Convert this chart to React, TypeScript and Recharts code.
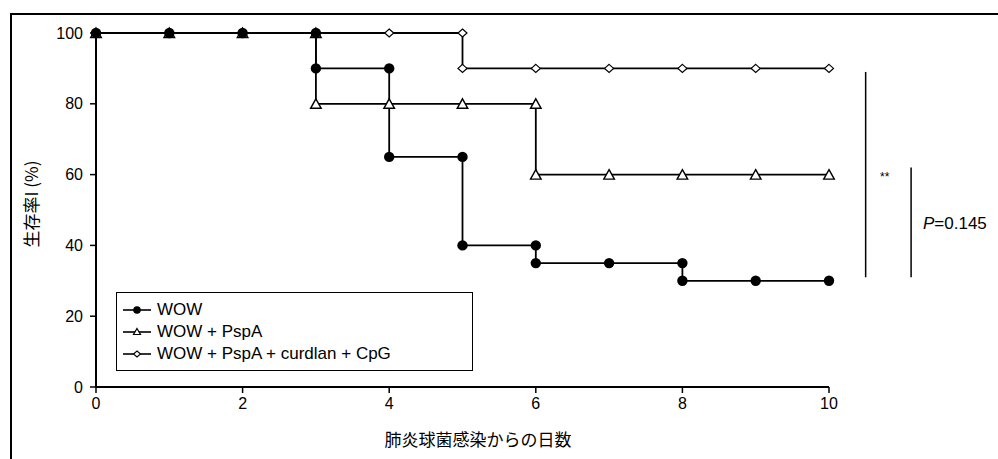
import {
  LineChart,
  Line,
  XAxis,
  YAxis,
  Legend,
  ReferenceLine,
} from "recharts";

// 生存曲線（日数 / 生存率 %）
const wowDays = [0, 1, 2, 3, 3, 4, 4, 5, 5, 6, 6, 7, 8, 8, 9, 10];
const wowSurvival = [100, 100, 100, 100, 90, 90, 65, 65, 40, 40, 35, 35, 35, 30, 30, 30];

const pspaDays = [0, 1, 2, 3, 3, 4, 5, 6, 6, 7, 8, 9, 10];
const pspaSurvival = [100, 100, 100, 100, 80, 80, 80, 80, 60, 60, 60, 60, 60];

const comboDays = [0, 1, 2, 3, 4, 5, 5, 6, 7, 8, 9, 10];
const comboSurvival = [100, 100, 100, 100, 100, 100, 90, 90, 90, 90, 90, 90];

const xTicks = [0, 2, 4, 6, 8, 10];
const yTicks = [0, 20, 40, 60, 80, 100];

const seriesNames = ["WOW", "WOW + PspA", "WOW + PspA + curdlan + CpG"];

const toRows = (days: number[], values: number[]) =>
  days.map((d, i) => ({ day: d, value: values[i] }));

const wowData = toRows(wowDays, wowSurvival);
const pspaData = toRows(pspaDays, pspaSurvival);
const comboData = toRows(comboDays, comboSurvival);

const LATIN = "'Liberation Sans', Arial, Helvetica, sans-serif";
const CJK = "'Noto Sans CJK JP', 'Liberation Sans', sans-serif";

const CircleDot = (p: any) => {
  const { cx, cy } = p;
  if (cx == null || cy == null) return null;
  return <circle key={`c${p.index}`} cx={cx} cy={cy} r={5.2} fill="#000" />;
};

const TriangleDot = (p: any) => {
  const { cx, cy } = p;
  if (cx == null || cy == null) return null;
  return (
    <path
      key={`t${p.index}`}
      d={`M${cx},${cy - 5} L${cx + 5.3},${cy + 4.5} L${cx - 5.3},${cy + 4.5} Z`}
      fill="#fff"
      stroke="#000"
      strokeWidth={1.4}
    />
  );
};

const DiamondDot = (p: any) => {
  const { cx, cy } = p;
  if (cx == null || cy == null) return null;
  return (
    <path
      key={`d${p.index}`}
      d={`M${cx},${cy - 4} L${cx + 4.5},${cy} L${cx},${cy + 4} L${cx - 4.5},${cy} Z`}
      fill="#fff"
      stroke="#000"
      strokeWidth={1.2}
    />
  );
};

const LegendBox = () => {
  const icons = [
    <circle cx={14} cy={9} r={3.8} fill="#000" />,
    <path d="M14,5.5 L17.5,11.5 L10.5,11.5 Z" fill="#fff" stroke="#000" strokeWidth={1.2} />,
    <path d="M14,6 L17.5,9 L14,12 L10.5,9 Z" fill="#fff" stroke="#000" strokeWidth={1.1} />,
  ];
  return (
    <div
      style={{
        border: "1.5px solid #000",
        boxSizing: "border-box",
        width: 357,
        height: 79,
        padding: "6px 0 0 6px",
        background: "#fff",
      }}
    >
      {seriesNames.map((name, i) => (
        <div
          key={name}
          style={{ display: "flex", alignItems: "center", height: 22, fontFamily: LATIN, fontSize: 17, color: "#000" }}
        >
          <svg width={28} height={18} style={{ marginRight: 6 }}>
            <line x1={0} y1={9} x2={28} y2={9} stroke="#000" strokeWidth={1.6} />
            {icons[i]}
          </svg>
          {name}
        </div>
      ))}
    </div>
  );
};

export default function App() {
  return (
    <div
      style={{
        position: "absolute",
        left: 0,
        top: 0,
        width: 998,
        height: 459,
        overflow: "hidden",
        background: "#fff",
      }}
    >
      <div
        style={{
          position: "absolute",
          left: 10,
          top: 13,
          width: 1100,
          height: 600,
          borderLeft: "2px solid #000",
          borderTop: "2px solid #000",
        }}
      />
      <div style={{ position: "absolute", left: 0, top: 0 }}>
        <LineChart
          width={998}
          height={459}
          margin={{ top: 33, right: 169, bottom: 42, left: 32 }}
        >
          <XAxis
            dataKey="day"
            type="number"
            domain={[0, 10]}
            ticks={xTicks}
            height={30}
            axisLine={{ stroke: "#000", strokeWidth: 2 }}
            tickLine={{ stroke: "#000", strokeWidth: 1.5 }}
            tickSize={6}
            tickMargin={5}
            tick={{ fill: "#000", fontSize: 16, fontFamily: LATIN }}
            label={{
              content: () => (
                <text x={478} y={446} textAnchor="middle" fontSize={17} fontFamily={CJK} fill="#000">
                  肺炎球菌感染からの日数
                </text>
              ),
            }}
          />
          <YAxis
            type="number"
            domain={[0, 100]}
            ticks={yTicks}
            width={64}
            axisLine={{ stroke: "#000", strokeWidth: 2 }}
            tickLine={{ stroke: "#000", strokeWidth: 1.5 }}
            tickSize={6}
            tickMargin={7}
            tick={{ fill: "#000", fontSize: 16, fontFamily: LATIN }}
            label={{
              content: () => (
                <text
                  x={38}
                  y={204}
                  transform="rotate(-90 38 204)"
                  textAnchor="middle"
                  fontSize={17}
                  fontFamily={CJK}
                  fill="#000"
                >
                  生存率I (%)
                </text>
              ),
            }}
          />
          <Line
            data={comboData}
            dataKey="value"
            type="linear"
            stroke="#000"
            strokeWidth={1.8}
            dot={DiamondDot}
            activeDot={false}
            isAnimationActive={false}
          />
          <Line
            data={pspaData}
            dataKey="value"
            type="linear"
            stroke="#000"
            strokeWidth={1.8}
            dot={TriangleDot}
            activeDot={false}
            isAnimationActive={false}
          />
          <Line
            data={wowData}
            dataKey="value"
            type="linear"
            stroke="#000"
            strokeWidth={1.8}
            dot={CircleDot}
            activeDot={false}
            isAnimationActive={false}
          />
          <ReferenceLine
            segment={[{ x: 10.5, y: 89 }, { x: 10.5, y: 31 }]}
            stroke="#000"
            strokeWidth={1.5}
            ifOverflow="visible"
          />
          <ReferenceLine
            segment={[{ x: 11.12, y: 62 }, { x: 11.12, y: 31 }]}
            stroke="#000"
            strokeWidth={1.5}
            ifOverflow="visible"
          />
          <Legend
            layout="vertical"
            align="center"
            verticalAlign="middle"
            content={() => <LegendBox />}
            wrapperStyle={{ left: 116, top: 292, width: 357, height: 79 }}
          />
        </LineChart>
      </div>
      <div style={{ position: "absolute", left: 880, top: 170, fontFamily: LATIN, fontSize: 12 }}>**</div>
      <div style={{ position: "absolute", left: 923, top: 214, fontFamily: LATIN, fontSize: 17 }}>
        <i>P</i>=0.145
      </div>
    </div>
  );
}
